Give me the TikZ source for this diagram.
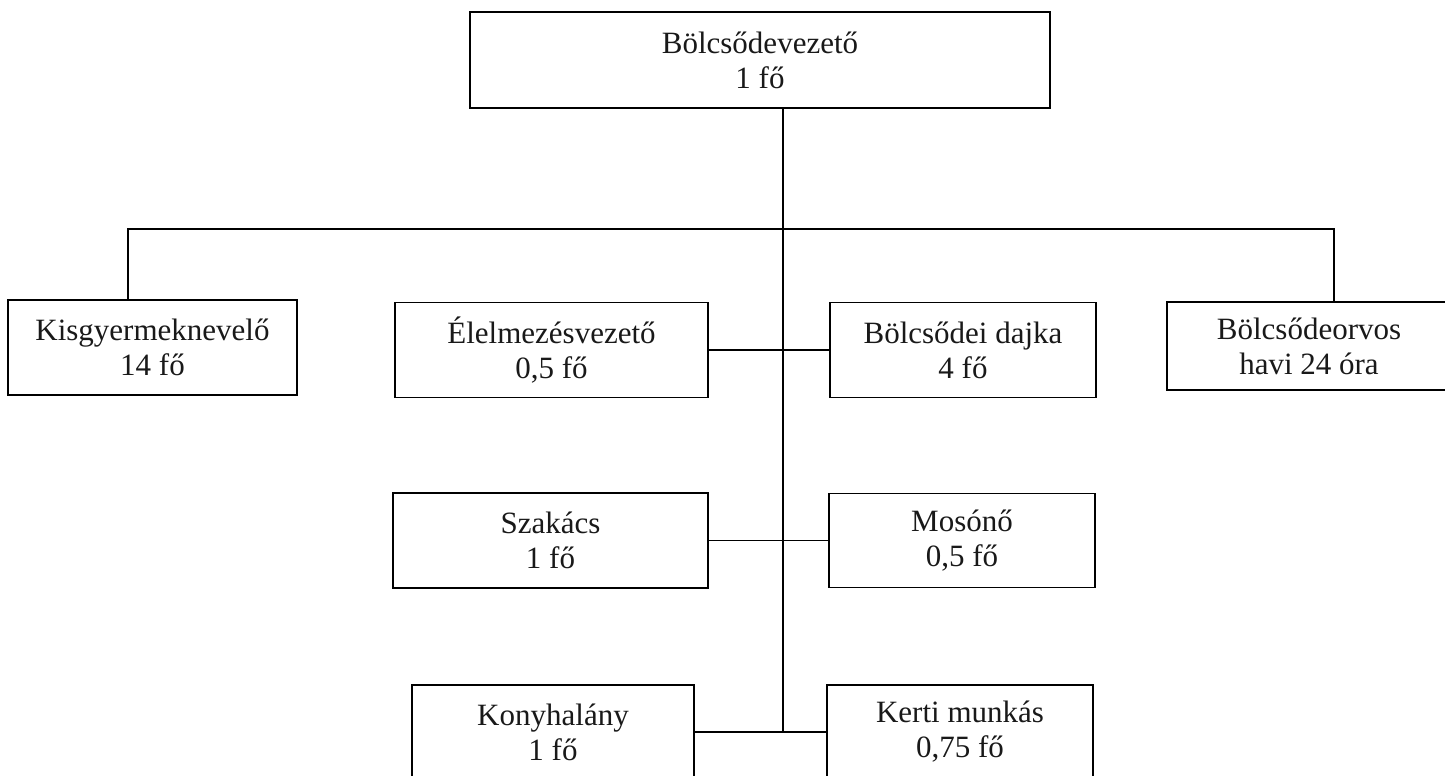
\documentclass[tikz,border=0pt]{standalone}
\usepackage{fontspec}
\setmainfont{Liberation Serif}
\begin{document}
\begin{tikzpicture}[x=1pt,y=-1pt,
  orgbox/.style={draw=black, line width=1.2pt, align=center, inner sep=0pt,
    font=\fontsize{31}{35}\selectfont, text=black!90},
  conn/.style={draw=black, line width=1.2pt}]
\useasboundingbox (0,0) rectangle (1445,776);
\node[orgbox, minimum width=580, minimum height=96] (top) at (760,60) {Bölcsődevezető\\1 fő};
\node[orgbox, minimum width=289, minimum height=95] (kis) at (152.5,347.5) {Kisgyermeknevelő\\14 fő};
\node[orgbox, minimum width=313, minimum height=95] (ele) at (551.5,350) {Élelmezésvezető\\0,5 fő};
\node[orgbox, minimum width=266, minimum height=95] (daj) at (963,350) {Bölcsődei dajka\\4 fő};
\node[orgbox, minimum width=284, minimum height=88] (orv) at (1309,346) {Bölcsődeorvos\\havi 24 óra};
\node[orgbox, minimum width=315, minimum height=95] (sza) at (550.5,540.5) {Szakács\\1 fő};
\node[orgbox, minimum width=266, minimum height=94] (mos) at (962,540.5) {Mosónő\\0,5 fő};
\node[orgbox, minimum width=282, minimum height=94] (kon) at (553,732) {Konyhalány\\1 fő};
\node[orgbox, minimum width=266, minimum height=94] (ker) at (960,732) {Kerti munkás\\0,75 fő};
\coordinate (j1) at (783,229);
\coordinate (j4) at (783,732);
\coordinate (hl) at (128,229);
\coordinate (hr) at (1334,229);
\draw[conn] (top.south -| j1) -- (j4);
\draw[conn] (kis.north -| hl) -- (hl) -- (hr) -- (orv.north -| hr);
\draw[conn] (ele.east) -- (daj.west);
\draw[conn] (sza.east) -- (mos.west);
\draw[conn] (kon.east) -- (ker.west);
\end{tikzpicture}
\end{document}
